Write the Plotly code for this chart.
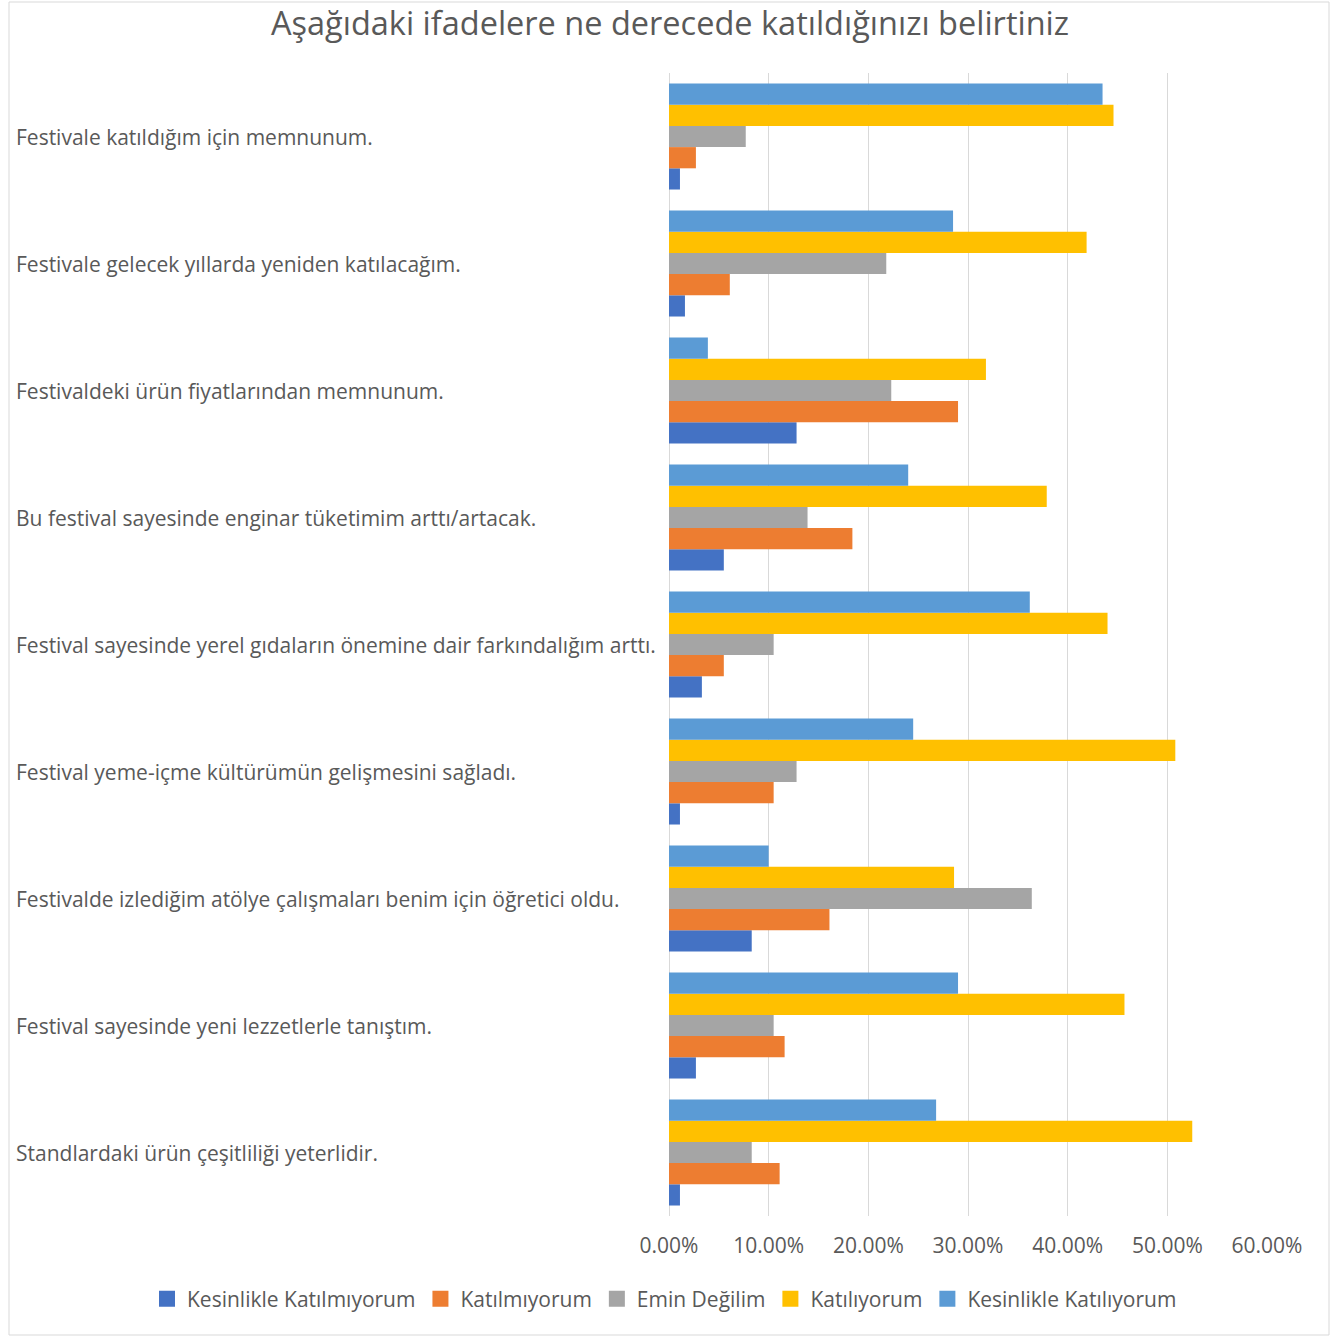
import plotly.graph_objects as go

# Statements, listed top to bottom as they appear on the chart
statements = [
    "Festivale katıldığım için memnunum.",
    "Festivale gelecek yıllarda yeniden katılacağım.",
    "Festivaldeki ürün fiyatlarından memnunum.",
    "Bu festival sayesinde enginar tüketimim arttı/artacak.",
    "Festival sayesinde yerel gıdaların önemine dair farkındalığım arttı.",
    "Festival yeme-içme kültürümün gelişmesini sağladı.",
    "Festivalde izlediğim atölye çalışmaları benim için öğretici oldu.",
    "Festival sayesinde yeni lezzetlerle tanıştım.",
    "Standlardaki ürün çeşitliliği yeterlidir.",
]

# Response shares (fraction of respondents) per statement, same order as above
kesinlikle_katilmiyorum = [0.011, 0.016, 0.128, 0.055, 0.033, 0.011, 0.083, 0.027, 0.011]
katilmiyorum = [0.027, 0.061, 0.290, 0.184, 0.055, 0.105, 0.161, 0.116, 0.111]
emin_degilim = [0.077, 0.218, 0.223, 0.139, 0.105, 0.128, 0.364, 0.105, 0.083]
katiliyorum = [0.446, 0.419, 0.318, 0.379, 0.440, 0.508, 0.286, 0.457, 0.525]
kesinlikle_katiliyorum = [0.435, 0.285, 0.039, 0.240, 0.362, 0.245, 0.100, 0.290, 0.268]

series_names = [
    "Kesinlikle Katılmıyorum",
    "Katılmıyorum",
    "Emin Değilim",
    "Katılıyorum",
    "Kesinlikle Katılıyorum",
]
series_values = [
    kesinlikle_katilmiyorum,
    katilmiyorum,
    emin_degilim,
    katiliyorum,
    kesinlikle_katiliyorum,
]
series_colors = ["#4472C4", "#ED7D31", "#A5A5A5", "#FFC000", "#5B9BD5"]

x_ticks = [0, 0.1, 0.2, 0.3, 0.4, 0.5, 0.6]
x_tick_labels = ["0.00%", "10.00%", "20.00%", "30.00%", "40.00%", "50.00%", "60.00%"]

FONT = "Open Sans"
TEXT = "#595959"
GRID = "#D9D9D9"

W, H = 1340, 1336
ML, MR, MT, MB = 669, 73, 73, 120
plot_w = W - ML - MR
plot_h = H - MT - MB


def px_to_paper_x(px):
    return (px - ML) / plot_w


def px_to_paper_y(py):
    return (H - MB - py) / plot_h


fig = go.Figure()
for name, vals, color in zip(series_names, series_values, series_colors):
    fig.add_trace(
        go.Bar(
            name=name,
            y=statements,
            x=vals,
            orientation="h",
            marker=dict(color=color, line=dict(width=0)),
            legendgroup=name,
            showlegend=False,
            hovertemplate="%{y}<br>%{x:.2%}<extra>" + name + "</extra>",
        )
    )

# Legend entries with larger square swatches
for name, color in zip(series_names, series_colors):
    fig.add_trace(
        go.Scatter(
            name=name,
            x=[None],
            y=[None],
            mode="markers",
            marker=dict(symbol="square", size=16, color=color),
            legendgroup=name,
            showlegend=True,
            hoverinfo="skip",
        )
    )

# Statement labels, left-aligned at the chart edge
annotations = [
    dict(
        x=px_to_paper_x(14),
        xref="paper",
        y=s,
        yref="y",
        text=s,
        showarrow=False,
        xanchor="left",
        yanchor="middle",
        font=dict(family=FONT, size=21, color=TEXT),
    )
    for s in statements
]

fig.update_layout(
    width=W,
    height=H,
    margin=dict(l=ML, r=MR, t=MT, b=MB, autoexpand=False),
    paper_bgcolor="white",
    plot_bgcolor="white",
    barmode="group",
    bargap=0.165,
    bargroupgap=0,
    title=dict(
        text="Aşağıdaki ifadelere ne derecede katıldığınızı belirtiniz",
        x=0.5,
        xref="container",
        y=1 - 24 / H,
        yref="container",
        xanchor="center",
        yanchor="middle",
        font=dict(family=FONT, size=32.5, color=TEXT),
    ),
    xaxis=dict(
        range=[0, 0.6],
        tickvals=x_ticks,
        ticktext=x_tick_labels,
        showgrid=True,
        gridcolor=GRID,
        gridwidth=1,
        zeroline=True,
        zerolinecolor=GRID,
        zerolinewidth=1,
        showline=False,
        ticks="",
        ticklabelstandoff=15,
        tickfont=dict(family=FONT, size=21, color=TEXT),
        fixedrange=True,
    ),
    yaxis=dict(
        categoryorder="array",
        categoryarray=statements[::-1],
        showticklabels=False,
        showgrid=False,
        zeroline=False,
        showline=False,
        ticks="",
        fixedrange=True,
    ),
    legend=dict(
        orientation="h",
        x=px_to_paper_x(147),
        xanchor="left",
        y=px_to_paper_y(1299),
        yanchor="middle",
        traceorder="normal",
        font=dict(family=FONT, size=21, color=TEXT),
        bgcolor="rgba(0,0,0,0)",
        itemclick=False,
        itemdoubleclick=False,
    ),
    annotations=annotations,
    shapes=[
        dict(
            type="rect",
            xref="paper",
            yref="paper",
            x0=px_to_paper_x(9),
            x1=px_to_paper_x(1329),
            y0=px_to_paper_y(1335),
            y1=px_to_paper_y(2),
            line=dict(color=GRID, width=1),
            fillcolor="rgba(0,0,0,0)",
            layer="below",
        )
    ],
)

fig.write_html("out.html")
